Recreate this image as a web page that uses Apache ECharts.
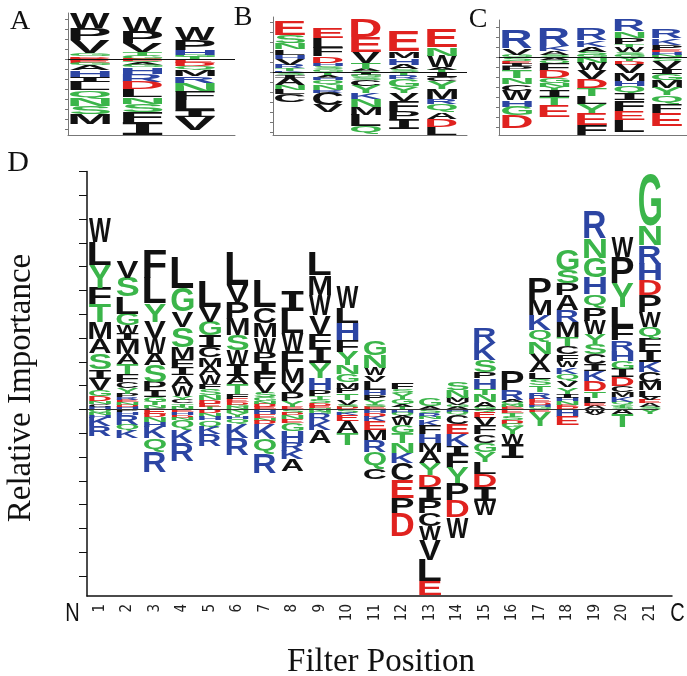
<!DOCTYPE html>
<html>
<head>
<meta charset="utf-8">
<script src="https://cdn.jsdelivr.net/npm/echarts@6.0.0/dist/echarts.min.js"></script>
<style>
  html, body { margin: 0; padding: 0; background: #fff; }
  #main { width: 687px; height: 676px; }
</style>
</head>
<body>
<div id="main"></div>
<script>
// residue colour groups
const blackResidues = 'ACFILMPVW';
const greenResidues = 'GNQSTY';
const blueResidues = 'HKR';
const redResidues = 'DE';

// panel D (positions 1..21). "up" letters listed top -> zero line, "down" letters zero line -> bottom
const dPositions = [1, 2, 3, 4, 5, 6, 7, 8, 9, 10, 11, 12, 13, 14, 15, 16, 17, 18, 19, 20, 21];
const dUpLetters = [
  'WLYFTMASIVGDNCH', 'VSLGWIMATFCYPRENDH', 'FLYVWASPIGTNC', 'LGVSMFIAWYCTN', 'LVGICMAWFSNDET',
  'LVPMSWIATFEDGN', 'LCMWPIFVSGNDE', 'ILWFMVPYE', 'LMWVFIYHPTSDEN', 'WLHFYNGMPTVSD',
  'GNWVLHPYSE', 'FSYGAT', 'GA', 'SNMVGA', 'RKSPHTNAG', 'PRAQNE', 'PMKQNVALSTREDHG',
  'GSPARMTCFWKQVYIHNED', 'RNGHQPWYSCIKDTLEA', 'WPYLFRHGIDCMKQTS', 'GNRHDPWQFIKCMLVEAS'
];
const dUpHeights = [
  [1.0, .95, .95, .7, .75, .72, .58, .68, .4, .48, .25, .22, .12, .12, .1],
  [.72, .8, .72, .49, .35, .28, .58, .42, .42, .32, .25, .24, .15, .12, .1, .1, .1, .1],
  [1.19, 1.05, .77, .67, .67, .49, .7, .35, .28, .2, .15, .13, .05],
  [1.29, .98, .66, .84, .49, .38, .3, .45, .45, .15, .15, .13, .12],
  [1.05, .63, .59, .46, .46, .39, .35, .39, .21, .25, .2, .15, .14, .1],
  [1.4, .72, .72, .68, .66, .58, .48, .32, .44, .2, .15, .1, .1, .1],
  [1.1, .66, .58, .66, .35, .5, .42, .42, .2, .15, .12, .13, .1],
  [.84, .92, .77, .7, .63, .42, .35, .25, .1],
  [.97, .84, .84, .77, .56, .67, .63, .5, .28, .15, .15, .1, .08, .07],
  [.92, .63, .7, .5, .56, .35, .35, .28, .2, .28, .2, .1, .1],
  [.63, .55, .3, .28, .35, .2, .2, .2, .1, .1],
  [.28, .18, .25, .2, .1, .12],
  [.3, .12],
  [.35, .3, .2, .1, .1, .1],
  [.63, .7, .5, .28, .42, .28, .3, .2, .1],
  [.84, .42, .1, .1, .1, .1],
  [.92, .63, .63, .5, .5, .35, .42, .28, .28, .28, .28, .15, .1, .1, .1],
  [.88, .55, .5, .63, .5, .63, .35, .35, .28, .28, .28, .28, .28, .28, .15, .15, .15, .1, .1],
  [1.13, .84, .84, .7, .56, .56, .56, .42, .42, .42, .28, .42, .42, .28, .25, .1, .15],
  [.84, 1.1, 1.0, .84, .56, .42, .42, .35, .35, .35, .28, .2, .2, .14, .1, .08],
  [2.17, .84, .77, .7, .63, .7, .63, .49, .49, .49, .42, .42, .35, .28, .14, .14, .15, .1]
];
const dDownLetters = [
  'QNHKR', 'PHRQK', 'EDNHKQR', 'EHDNQKR', 'DNHQKR', 'NYHQKR', 'HENDKQR', 'SDNEGHRKA',
  'NGRKA', 'SKEAT', 'HDKEMRQC', 'HQAWGTNKCEPD', 'SRNKFHMAYDIPCWVLE', 'HQCEKIFYPDW',
  'QEVFCGYLDIW', 'ETSDGYWI', 'EY', 'HE', 'WV', 'AT', 'Y'
];
const dDownHeights = [
  [.12, .1, .12, .35, .42],
  [.12, .1, .42, .25, .33],
  [.2, .13, .2, .2, .49, .56, .85],
  [.12, .13, .1, .1, .42, .53, .75],
  [.15, .15, .15, .3, .3, .5],
  [.15, .15, .12, .2, .6, .7],
  [.2, .15, .13, .15, .63, .63, .8],
  [.15, .1, .15, .15, .35, .5, .35, .35, .5],
  [.1, .1, .3, .35, .55],
  [.15, .1, .25, .5, .5],
  [.15, .15, .2, .35, .45, .5, .7, .45],
  [.15, .1, .1, .3, .35, .42, .42, .42, .7, .77, .63, .97],
  [.15, .15, .1, .28, .35, .39, .35, .49, .49, .49, .56, .56, .56, .56, .84, .91, .56],
  [.1, .1, .4, .45, .5, .33, .58, .67, .7, .7, .88],
  [.1, .25, .35, .35, .35, .4, .4, .5, .55, .58, .6],
  [.15, .15, .15, .15, .15, .3, .4, .6],
  [.1, .6],
  [.3, .35],
  [.15, .1],
  [.2, .55],
  [.2]
];
const endLabels = ['N', 'C'];
const endLabelPositions = [0, 22];

// panel A
const aUpLetters = ['WPVGDE', 'WPVTG', 'WPHGT'];
const aUpHeights = [[1.5, 1.2, 1.3, .3, .15, .15], [1.5, 1.1, .9, .35, .35], [1.3, 1.0, .5, .25, .2]];
const aDownLetters = ['DEGAHILQNSM', 'EQAGHRDLNSFI', 'EDQMRNFLIV'];
const aDownHeights = [
  [.2, .2, .2, .5, .7, .5, .8, .8, .8, .8, 1.0],
  [.2, .15, .2, .2, .7, .8, .75, .75, .7, .8, 1.0, 1.3],
  [.35, .35, .35, .65, .65, .9, .85, 1.0, .65, 1.3]
];

// panel B
const bUpLetters = ['ESNLHVRTK', 'ELFDHSG', 'DEVTAS', 'EMHAS', 'ENWAT'];
const bUpHeights = [
  [1.4, .8, .6, .55, .4, .6, .35, .3, .1],
  [1.0, 1.0, .85, .65, .3, .3, .3],
  [1.83, 1.5, 1.1, .6, .25, .1],
  [2.0, .7, .65, .45, .3],
  [1.83, .83, 1.1, .3, .25]
];
const bDownLetters = ['SIANLC', 'TAHQNRCV', 'IGSCYKNMLQ', 'TRGYVFPI', 'ICYMRQADL'];
const bDownHeights = [
  [.3, .25, .75, .45, .45, .8],
  [.3, .25, .25, .55, .45, .25, 1.25, .7],
  [.3, .25, .25, .6, .7, .6, .8, .8, 1.1, .8],
  [.35, .35, .8, .6, .8, 1.0, .8, 1.0],
  [.5, .4, .8, 1.0, .5, .8, .7, .8, .8]
];

// panel C
const cUpLetters = ['RVG', 'RKAS', 'RKASG', 'RNPTWSG', 'RKPEHN'];
const cUpHeights = [
  [1.83, .65, .25],
  [1.83, .5, .35, .25],
  [1.17, .65, .5, .35, .2],
  [1.17, .65, .65, .3, .5, .3, .2],
  [.85, .65, .5, .25, .25, .25]
];
const cDownLetters = ['SEIPTNCWHGD', 'AQFDGNYITE', 'NWVDTLYEF', 'YDVMHQIFEL', 'SVIGMYQFE'];
const cDownHeights = [
  [.4, .3, .2, .35, .8, .65, .65, .95, .65, .85, 1.3],
  [.3, .3, .8, .7, .45, .4, .35, .65, .8, 1.2],
  [.6, .7, .9, .85, .8, .8, 1.0, 1.15, 1.0],
  [.4, .35, .85, .75, .5, .8, .65, 1.05, .9, 1.2],
  [.4, .8, .5, .6, .8, .7, .8, .95, 1.3]
];

const LOGO_FAMILY = '"Liberation Sans", Arial, Helvetica, sans-serif';
const SERIF_I_FAMILY = '"DejaVu Sans Mono", "Liberation Mono", monospace';
const SERIF = '"Liberation Serif", "Times New Roman", serif';
const NARROW = '"Liberation Sans Narrow", "Arial Narrow", "DejaVu Sans Condensed", sans-serif';

function letterColor(ch) {
  if (greenResidues.indexOf(ch) >= 0) return '#3bb54a';
  if (blueResidues.indexOf(ch) >= 0) return '#2c45a3';
  if (redResidues.indexOf(ch) >= 0) return '#e0221f';
  return '#111111';
}
// a plain sans "I" stretched to the column would be a solid block, so it takes the barred form
function letterFamily(ch) { return ch === 'I' ? SERIF_I_FAMILY : LOGO_FAMILY; }

// glyph ink box, measured once per letter
const measureCtx = document.createElement('canvas').getContext('2d');
measureCtx.textAlign = 'center';
measureCtx.textBaseline = 'middle';
const glyphCache = {};
function glyphBox(ch) {
  if (!glyphCache[ch]) {
    measureCtx.font = 'bold 100px ' + letterFamily(ch);
    const m = measureCtx.measureText(ch);
    glyphCache[ch] = {
      a: m.actualBoundingBoxAscent, d: m.actualBoundingBoxDescent,
      l: m.actualBoundingBoxLeft, r: m.actualBoundingBoxRight
    };
  }
  return glyphCache[ch];
}

function stackLetters(upLetters, upHeights, downLetters, downHeights) {
  const items = [];
  upLetters.forEach(function (str, c) {
    let base = 0;
    for (let k = str.length - 1; k >= 0; k--) {
      const h = upHeights[c][k];
      items.push({ ch: str[k], value: [c + 1, base + h, base] });
      base += h;
    }
  });
  downLetters.forEach(function (str, c) {
    let base = 0;
    for (let k = 0; k < str.length; k++) {
      const h = downHeights[c][k];
      items.push({ ch: str[k], value: [c + 1, base, base - h] });
      base -= h;
    }
  });
  return items;
}

function letterRenderer(items, colWidth) {
  return function (params, api) {
    const it = items[params.dataIndex];
    const tl = api.coord([api.value(0) - colWidth / 2, api.value(1)]);
    const br = api.coord([api.value(0) + colWidth / 2, api.value(2)]);
    const g = glyphBox(it.ch);
    const sx = (br[0] - tl[0]) / (g.l + g.r);
    const sy = (br[1] - tl[1]) / (g.a + g.d);
    if (!(sy > 0.0005)) return null;
    return {
      type: 'text',
      x: tl[0] + g.l * sx,
      y: tl[1] + g.a * sy,
      scaleX: sx,
      scaleY: sy,
      silent: true,
      style: {
        text: it.ch, fontSize: 100, fontWeight: 'bold', fontFamily: letterFamily(it.ch),
        fill: letterColor(it.ch), align: 'center', verticalAlign: 'middle',
        textAlign: 'center', textVerticalAlign: 'middle'
      }
    };
  };
}

function range(a, b) { const out = []; for (let i = a; i <= b; i++) out.push(i); return out; }

const panels = [
  { up: [aUpLetters, aUpHeights], down: [aDownLetters, aDownHeights],
    grid: { left: 68, top: 13, width: 167, height: 122 }, x: [0.581, 3.762], y: [-7.57, 4.63], w: 0.76, lineEnd: 3.762 },
  { up: [bUpLetters, bUpHeights], down: [bDownLetters, bDownHeights],
    grid: { left: 273, top: 17, width: 194, height: 118 }, x: [0.553, 5.658], y: [-6.3, 5.5], w: 0.79, lineEnd: 5.658 },
  { up: [cUpLetters, cUpHeights], down: [cDownLetters, cDownHeights],
    grid: { left: 499, top: 20, width: 188, height: 115 }, x: [0.52, 5.533], y: [-7.77, 3.73], w: 0.8, lineEnd: 5.533 },
  { up: [dUpLetters, dUpHeights], down: [dDownLetters, dDownHeights],
    grid: { left: 87, top: 171.5, width: 585, height: 424.5 }, x: [0.527, 21.8], y: [-7.84, 10], w: 0.8, lineEnd: 21.3, main: true }
];

const grids = [], xAxes = [], yAxes = [], series = [];
panels.forEach(function (p, i) {
  const items = stackLetters(p.up[0], p.up[1], p.down[0], p.down[1]);
  const axisColor = p.main ? '#111' : '#777';
  grids.push(Object.assign({ containLabel: false }, p.grid));
  xAxes.push({
    type: 'value', gridIndex: i, min: p.x[0], max: p.x[1],
    axisLine: { show: true, onZero: false, lineStyle: { color: axisColor, width: p.main ? 1.5 : 1 } },
    axisTick: { show: false },
    splitLine: { show: false },
    axisLabel: p.main ? {
      show: true, customValues: dPositions, rotate: 90, margin: 8,
      fontSize: 15, fontFamily: NARROW, color: '#222', formatter: function (v) { return String(v); }
    } : { show: false }
  });
  yAxes.push({
    type: 'value', gridIndex: i, min: p.y[0], max: p.y[1],
    axisLine: { show: true, onZero: false, lineStyle: { color: axisColor, width: p.main ? 1.5 : 1 } },
    axisTick: {
      show: true, inside: false, length: p.main ? 8 : 3,
      customValues: range(Math.ceil(p.y[0]), Math.floor(p.y[1])),
      lineStyle: { color: axisColor, width: 1 }
    },
    axisLabel: { show: false },
    splitLine: { show: false }
  });
  series.push({
    type: 'custom', xAxisIndex: i, yAxisIndex: i, clip: false, silent: true,
    renderItem: letterRenderer(items, p.w),
    data: items.map(function (it) { return it.value; }),
    markLine: {
      silent: true, symbol: 'none', animation: false,
      label: { show: false },
      lineStyle: { color: p.main ? '#333' : '#111', width: 1, type: 'solid' },
      data: [[{ coord: [p.x[0], 0] }, { coord: [p.lineEnd, 0] }]]
    },
    z: 3
  });
});

// N / C end labels under the main axis
series.push({
  type: 'custom', xAxisIndex: 3, yAxisIndex: 3, clip: false, silent: true,
  data: endLabelPositions.map(function (v) { return [v, -8.6]; }),
  renderItem: function (params, api) {
    const pt = api.coord([api.value(0), api.value(1)]);
    return {
      type: 'text', x: pt[0], y: pt[1], scaleX: 0.8, silent: true,
      style: {
        text: endLabels[params.dataIndex], fontSize: 25, fontFamily: LOGO_FAMILY, fill: '#111',
        align: 'center', verticalAlign: 'middle', textAlign: 'center', textVerticalAlign: 'middle'
      }
    };
  }
});

function headText(text, x, y, size, rot) {
  return {
    type: 'text', x: x, y: y, rotation: rot || 0, silent: true,
    style: {
      text: text, fontSize: size, fontFamily: SERIF, fill: '#111',
      align: 'center', verticalAlign: 'middle', textAlign: 'center', textVerticalAlign: 'middle'
    }
  };
}

const chart = echarts.init(document.getElementById('main'));
chart.setOption({
  animation: false,
  backgroundColor: '#fff',
  grid: grids,
  xAxis: xAxes,
  yAxis: yAxes,
  series: series,
  graphic: [
    headText('A', 20, 22, 28),
    headText('B', 243, 18, 28),
    headText('C', 478, 20, 28),
    headText('D', 18, 163, 30),
    headText('Relative Importance', 21, 388, 33, Math.PI / 2),
    headText('Filter Position', 381, 662, 33)
  ]
});
</script>
</body>
</html>
